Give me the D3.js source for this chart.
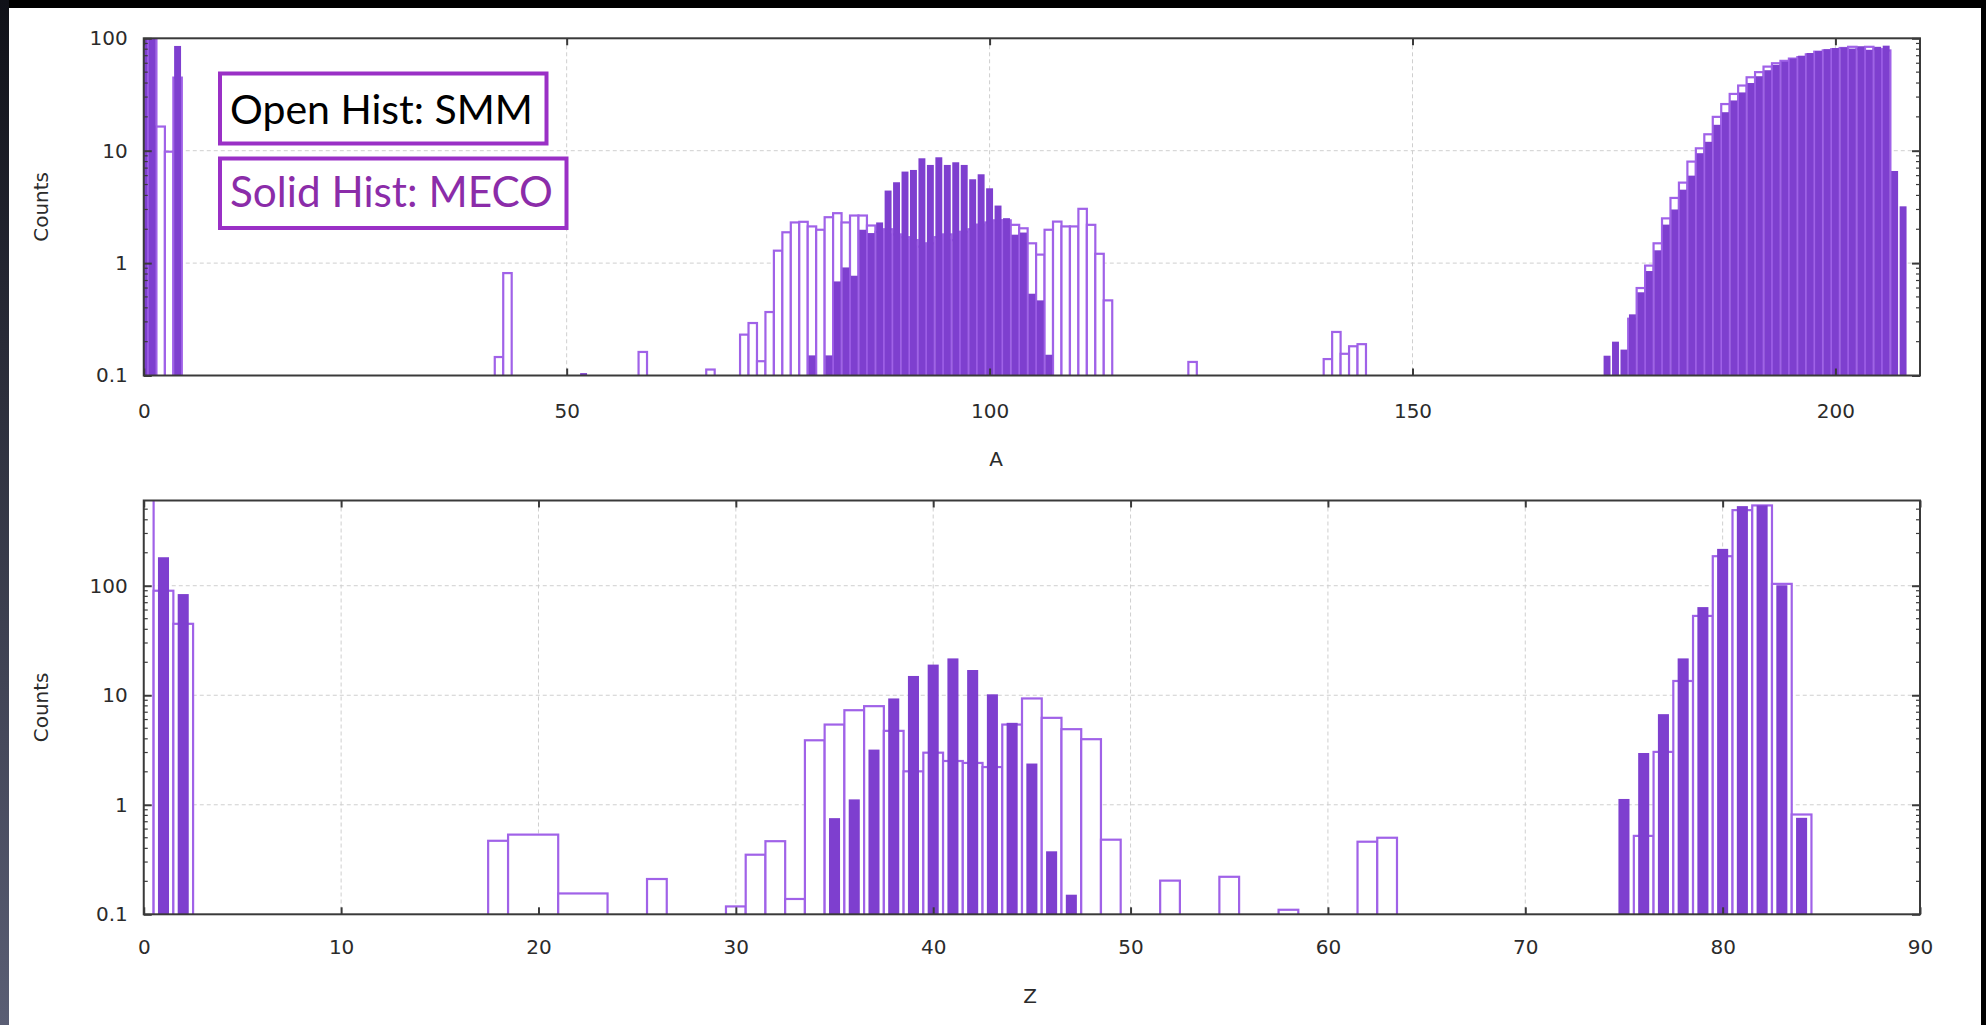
<!DOCTYPE html>
<html>
<head>
<meta charset="utf-8">
<script src="https://cdn.jsdelivr.net/npm/d3@7"></script>
<style>
  html, body { margin: 0; padding: 0; background: #000; }
  svg { display: block; }
</style>
</head>
<body>
<svg id="chart" width="1986" height="1025"></svg>
<script>
// ---------- Mass number A ----------
// SMM (open histogram): [A, counts]
const smmA = [
  [1, 250], [2, 16.4], [3, 9.8], [4, 44.7],
  [42, 0.146], [43, 0.815], [59, 0.162], [67, 0.113],
  [71, 0.231], [72, 0.293], [73, 0.134], [74, 0.367], [75, 1.29], [76, 1.88],
  [77, 2.30], [78, 2.33], [79, 2.12], [80, 1.98], [81, 2.56], [82, 2.78],
  [83, 2.30], [84, 2.65], [85, 2.65], [86, 2.16], [87, 1.9], [88, 2.0],
  [89, 1.8], [90, 1.7], [91, 1.6], [92, 1.4], [93, 1.5], [94, 1.7], [95, 1.8],
  [96, 1.6], [97, 1.9], [98, 2.0], [99, 2.2], [100, 2.3], [101, 2.4], [102, 2.4],
  [103, 2.19], [104, 2.04], [105, 1.50], [106, 1.19], [107, 1.98], [108, 2.34],
  [109, 2.12], [110, 2.12], [111, 3.04], [112, 2.19], [113, 1.21], [114, 0.466],
  [124, 0.132], [140, 0.140], [141, 0.244], [142, 0.156], [143, 0.182], [144, 0.19],
  [176, 0.32], [177, 0.6], [178, 0.95], [179, 1.5], [180, 2.5], [181, 3.8],
  [182, 5.2], [183, 8.0], [184, 10.5], [185, 14], [186, 20], [187, 26], [188, 32],
  [189, 38], [190, 45], [191, 50], [192, 56], [193, 60], [194, 63], [195, 66],
  [196, 68], [197, 72], [198, 76], [199, 78], [200, 80], [201, 82], [202, 84],
  [203, 80], [204, 84], [205, 80], [206, 78]
];
// MECO (solid histogram): [A, counts]
const mecoA = [
  [0, 400], [1, 400], [4, 85.5], [52, 0.105],
  [79, 0.151], [81, 0.151], [82, 0.687], [83, 0.915], [84, 0.772], [85, 1.98],
  [86, 1.85], [87, 2.30], [88, 4.42], [89, 5.24], [90, 6.52], [91, 6.74],
  [92, 8.56], [93, 7.47], [94, 8.74], [95, 7.47], [96, 7.89], [97, 7.47],
  [98, 5.57], [99, 6.17], [100, 4.63], [101, 3.25], [102, 2.51], [103, 1.79],
  [104, 1.87], [105, 0.534], [106, 0.466], [107, 0.153],
  [173, 0.15], [174, 0.2], [175, 0.17], [176, 0.35], [177, 0.55], [178, 0.85],
  [179, 1.3], [180, 2.2], [181, 3.0], [182, 4.5], [183, 6.0], [184, 9.5],
  [185, 12], [186, 17], [187, 22], [188, 28], [189, 33], [190, 40], [191, 46],
  [192, 52], [193, 58], [194, 62], [195, 66], [196, 70], [197, 74], [198, 77],
  [199, 80], [200, 82], [201, 83], [202, 81], [203, 85], [204, 79], [205, 84],
  [206, 86], [207, 6.6], [208, 3.2]
];

// ---------- Charge number Z ----------
// SMM (open histogram): [low edge, high edge, counts]
const smmZ = [
  [-0.5, 0.5, 3000], [0.5, 1.5, 90], [1.5, 2.5, 44.9],
  [17.45, 18.46, 0.469], [18.46, 21.0, 0.534], [21.0, 23.5, 0.155], [25.5, 26.5, 0.21],
  [29.5, 30.5, 0.118], [30.5, 31.5, 0.35], [31.5, 32.5, 0.465], [32.5, 33.5, 0.138],
  [33.5, 34.5, 3.88], [34.5, 35.5, 5.4], [35.5, 36.5, 7.3], [36.5, 37.5, 7.95],
  [37.5, 38.5, 4.73], [38.5, 39.5, 2.02], [39.5, 40.5, 2.99], [40.5, 41.5, 2.51],
  [41.5, 42.5, 2.41], [42.5, 43.5, 2.21], [43.5, 44.5, 5.4], [44.5, 45.5, 9.35],
  [45.5, 46.5, 6.22], [46.5, 47.5, 4.9], [47.5, 48.5, 3.97], [48.5, 49.5, 0.48],
  [51.5, 52.5, 0.203], [54.5, 55.5, 0.22], [57.5, 58.5, 0.11],
  [61.5, 62.5, 0.46], [62.5, 63.5, 0.50],
  [75.5, 76.5, 0.52], [76.5, 77.5, 3.04], [77.5, 78.5, 13.5], [78.5, 79.5, 53],
  [79.5, 80.5, 186], [80.5, 81.5, 490], [81.5, 82.5, 541], [82.5, 83.5, 104],
  [83.5, 84.5, 0.815]
];
// MECO (solid histogram): [Z, counts]
const mecoZ = [
  [1, 182], [2, 83.9],
  [35, 0.755], [36, 1.12], [37, 3.19], [38, 9.35], [39, 15.0], [40, 19.05],
  [41, 21.7], [42, 17.0], [43, 10.2], [44, 5.6], [45, 2.38], [46, 0.376], [47, 0.151],
  [75, 1.13], [76, 2.97], [77, 6.72], [78, 21.7], [79, 63.8], [80, 217],
  [81, 533], [82, 541], [83, 101], [84, 0.76]
];

// ---------- Axis ticks ----------
const aTicks = [0, 50, 100, 150, 200];
const zTicks = [0, 10, 20, 30, 40, 50, 60, 70, 80, 90];
const countTicksA = [0.1, 1, 10, 100];
const countTicksZ = [0.1, 1, 10, 100];

// ---------- Legend text ----------
const legendOpen = "Open Hist: SMM";
const legendSolid = "Solid Hist: MECO";

// ---------- Styling ----------
const SOLID = "#7e3fcf";
const OPEN = "#a062e8";
const FRAME = "#3a3a3a";
const GRID = "#cfcfcf";
const TEXT = "#2b2b2b";
const FONT = "'DejaVu Sans', Verdana, sans-serif";

const svg = d3.select("#chart");

// slide background
const defs = svg.append("defs");
const lg = defs.append("linearGradient").attr("id", "edge").attr("x1", 0).attr("y1", 0).attr("x2", 0).attr("y2", 1);
lg.append("stop").attr("offset", "0%").attr("stop-color", "#101118");
lg.append("stop").attr("offset", "100%").attr("stop-color", "#5a5e74");
svg.append("rect").attr("width", 1986).attr("height", 1025).attr("fill", "#000");
svg.append("rect").attr("x", 0).attr("y", 0).attr("width", 9).attr("height", 1025).attr("fill", "url(#edge)");
svg.append("rect").attr("x", 9).attr("y", 8).attr("width", 1972).attr("height", 1017).attr("fill", "#fff");

function fmtCount(d) { return d < 1 ? String(d) : d3.format("d")(d); }

function drawPanel(cfg) {
  const { id, x, y, xTicks, yTicks, open, openIsEdges, solid, solidWidth, xTitle, xTitlePos } = cfg;
  const [xl, xr] = x.range();
  const [yb, yt] = y.range();
  const g = svg.append("g");

  defs.append("clipPath").attr("id", "clip-" + id)
    .append("rect").attr("x", xl).attr("y", yt).attr("width", xr - xl).attr("height", yb - yt);

  // grid
  const grid = g.append("g").attr("stroke", GRID).attr("stroke-width", 1).attr("stroke-dasharray", "4,3");
  grid.selectAll("line.gx").data(xTicks.filter(t => x(t) > xl + 2 && x(t) < xr - 2)).join("line")
    .attr("x1", d => x(d)).attr("x2", d => x(d)).attr("y1", yt).attr("y2", yb);
  grid.selectAll("line.gy").data(yTicks.filter(t => y(t) < yb - 2 && y(t) > yt + 2)).join("line")
    .attr("x1", xl).attr("x2", xr).attr("y1", d => y(d)).attr("y2", d => y(d));

  const bars = g.append("g").attr("clip-path", `url(#clip-${id})`);
  const base = y.domain()[0];

  // open histogram: outlined boxes, full bin width
  const openRows = open.map(r => openIsEdges ? { lo: r[0], hi: r[1], v: r[2] } : { lo: r[0] - 0.5, hi: r[0] + 0.5, v: r[1] });
  bars.append("g").selectAll("rect").data(openRows).join("rect")
    .attr("x", d => x(d.lo)).attr("width", d => x(d.hi) - x(d.lo))
    .attr("y", d => y(d.v)).attr("height", d => y(base) - y(d.v) + 4)
    .attr("fill", "#fff").attr("stroke", OPEN).attr("stroke-width", 2.2);

  // solid histogram: filled, narrower bars
  bars.append("g").selectAll("rect").data(solid).join("rect")
    .attr("x", d => x(d[0] - solidWidth / 2)).attr("width", x(solidWidth) - x(0))
    .attr("y", d => y(d[1])).attr("height", d => y(base) - y(d[1]))
    .attr("fill", SOLID);

  // minor ticks on the log axis
  const minors = [];
  const [lo, hi] = y.domain();
  for (let dec = 0.1; dec < hi; dec *= 10) {
    for (let k = 2; k <= 9; k++) { const v = +(dec * k).toPrecision(3); if (v > lo && v < hi) minors.push(v); }
  }
  const mt = g.append("g").attr("stroke", FRAME).attr("stroke-width", 1.2);
  mt.selectAll("line.l").data(minors).join("line")
    .attr("x1", xl).attr("x2", xl + 4).attr("y1", d => y(d)).attr("y2", d => y(d));
  mt.selectAll("line.r").data(minors).join("line")
    .attr("x1", xr).attr("x2", xr - 4).attr("y1", d => y(d)).attr("y2", d => y(d));

  // axes
  const styleAxis = sel => {
    sel.select(".domain").remove();
    sel.selectAll(".tick line").attr("stroke", FRAME).attr("stroke-width", 2);
    sel.selectAll(".tick text").attr("fill", TEXT).style("font-family", FONT).style("font-size", "20px");
  };
  g.append("g").attr("transform", `translate(0,${yb})`)
    .call(d3.axisBottom(x).tickValues(xTicks).tickSizeInner(-7).tickSizeOuter(0).tickPadding(cfg.xPad).tickFormat(d3.format("d")))
    .call(styleAxis);
  g.append("g").attr("transform", `translate(0,${yt})`)
    .call(d3.axisTop(x).tickValues(xTicks).tickSizeInner(-7).tickSizeOuter(0).tickFormat(""))
    .call(styleAxis);
  g.append("g").attr("transform", `translate(${xl},0)`)
    .call(d3.axisLeft(y).tickValues(yTicks).tickSizeInner(-8).tickSizeOuter(0).tickPadding(16).tickFormat(fmtCount))
    .call(styleAxis);
  g.append("g").attr("transform", `translate(${xr},0)`)
    .call(d3.axisRight(y).tickValues(yTicks).tickSizeInner(-8).tickSizeOuter(0).tickFormat(""))
    .call(styleAxis);

  // frame
  g.append("rect").attr("x", xl).attr("y", yt).attr("width", xr - xl).attr("height", yb - yt)
    .attr("fill", "none").attr("stroke", FRAME).attr("stroke-width", 2);

  // titles
  g.append("text").attr("transform", `translate(48,${(yt + yb) / 2}) rotate(-90)`)
    .attr("text-anchor", "middle").attr("fill", TEXT)
    .style("font-family", FONT).style("font-size", "20px").text("Counts");
  g.append("text").attr("x", xTitlePos[0]).attr("y", xTitlePos[1]).attr("text-anchor", "middle")
    .attr("fill", TEXT).style("font-family", FONT).style("font-size", "20px").text(xTitle);
}

const xA = d3.scaleLinear().domain([0, 210]).range([143.75, 1920]);
const yA = d3.scaleLog().domain([0.1, 100]).range([375.5, 38.3]);
const xZ = d3.scaleLinear().domain([0, 90]).range([143.75, 1920]);
const yZ = d3.scaleLog().domain([0.1, 600]).range([914.3, 500.5]);

drawPanel({ id: "a", x: xA, y: yA, xTicks: aTicks, yTicks: countTicksA, open: smmA, openIsEdges: false,
  solid: mecoA, solidWidth: 0.82, xTitle: "A", xTitlePos: [996, 466], xPad: 28 });
drawPanel({ id: "z", x: xZ, y: yZ, xTicks: zTicks, yTicks: countTicksZ, open: smmZ, openIsEdges: true,
  solid: mecoZ, solidWidth: 0.56, xTitle: "Z", xTitlePos: [1030, 1003], xPad: 26 });

// legend boxes
function legendBox(x0, y0, x1, y1, label, color, targetWidth, baseline) {
  svg.append("rect").attr("x", x0).attr("y", y0).attr("width", x1 - x0).attr("height", y1 - y0)
    .attr("fill", "#fff").attr("stroke", "#9a30c6").attr("stroke-width", 4);
  const t = svg.append("text").attr("x", x0 + 10).attr("y", baseline).attr("fill", color)
    .style("font-family", "Lato, 'Open Sans', sans-serif").style("font-size", "42px").text(label);
  const w = t.node().getComputedTextLength();
  t.style("font-size", (42 * targetWidth / w).toFixed(2) + "px");
}
legendBox(220, 73.5, 546.5, 143.5, legendOpen, "#000", 303, 124);
legendBox(220, 158.5, 566.5, 228, legendSolid, "#8b2ca9", 323, 207);
</script>
</body>
</html>
